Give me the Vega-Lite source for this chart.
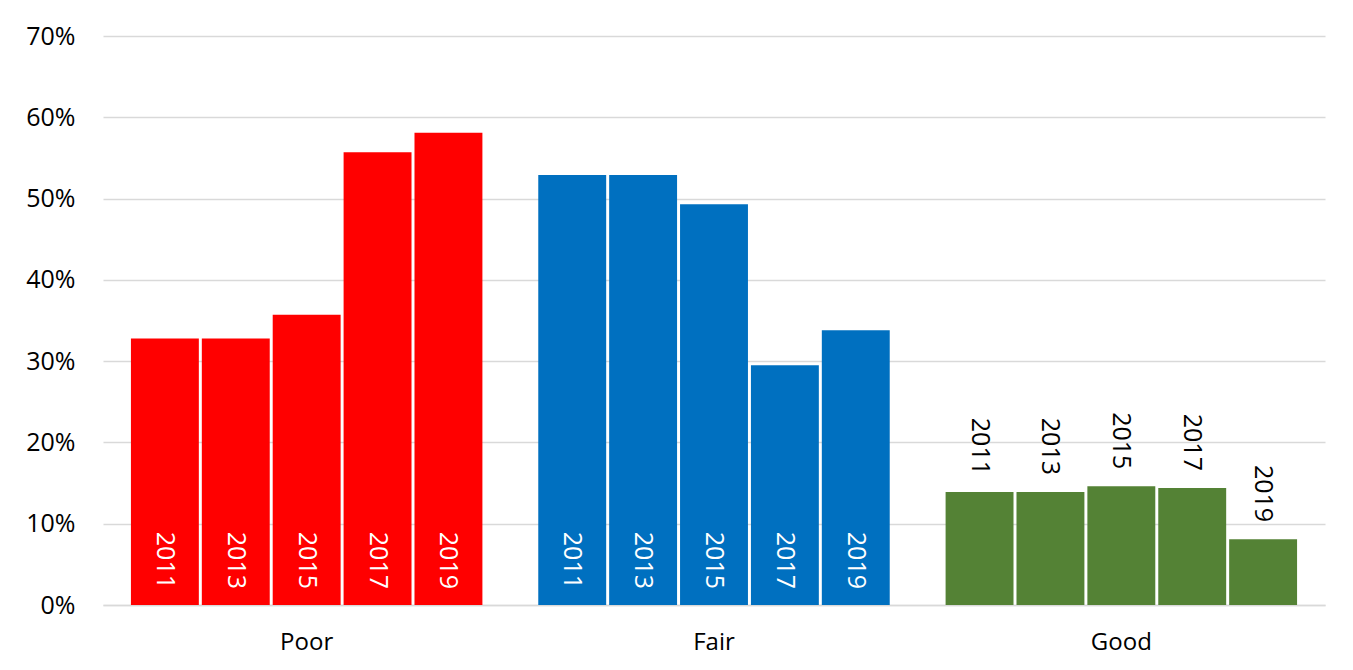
{
  "$schema": "https://vega.github.io/schema/vega-lite/v6.json",
  "width": 1222,
  "height": 569,
  "autosize": {"type": "none"},
  "padding": {"left": 103, "top": 36, "right": 28, "bottom": 65},
  "background": "white",
  "config": {
    "view": {"stroke": null},
    "font": "Open Sans",
    "axis": {"labelFont": "Open Sans", "labelColor": "#000000"}
  },
  "data": {
    "values": [
      {"rating": "Poor", "year": "2011", "share": 0.328},
      {"rating": "Poor", "year": "2013", "share": 0.328},
      {"rating": "Poor", "year": "2015", "share": 0.357},
      {"rating": "Poor", "year": "2017", "share": 0.557},
      {"rating": "Poor", "year": "2019", "share": 0.581},
      {"rating": "Fair", "year": "2011", "share": 0.529},
      {"rating": "Fair", "year": "2013", "share": 0.529},
      {"rating": "Fair", "year": "2015", "share": 0.493},
      {"rating": "Fair", "year": "2017", "share": 0.295},
      {"rating": "Fair", "year": "2019", "share": 0.338},
      {"rating": "Good", "year": "2011", "share": 0.139},
      {"rating": "Good", "year": "2013", "share": 0.139},
      {"rating": "Good", "year": "2015", "share": 0.146},
      {"rating": "Good", "year": "2017", "share": 0.144},
      {"rating": "Good", "year": "2019", "share": 0.081}
    ]
  },
  "encoding": {
    "x": {
      "field": "rating",
      "type": "nominal",
      "sort": ["Poor", "Fair", "Good"],
      "scale": {"paddingInner": 0, "paddingOuter": 0},
      "axis": {
        "title": null,
        "labelAngle": 0,
        "labelFontSize": 24,
        "labelPadding": 25,
        "ticks": false,
        "domainColor": "#D9D9D9",
        "domainWidth": 1.5
      }
    },
    "xOffset": {
      "field": "year",
      "type": "nominal",
      "scale": {"paddingInner": 0.042, "paddingOuter": 0.394}
    }
  },
  "layer": [
    {
      "mark": {"type": "bar"},
      "encoding": {
        "y": {
          "field": "share",
          "type": "quantitative",
          "scale": {"domain": [0, 0.7], "nice": false},
          "axis": {
            "title": null,
            "format": ".0%",
            "values": [0, 0.1, 0.2, 0.3, 0.4, 0.5, 0.6, 0.7],
            "labelFontSize": 25,
            "labelPadding": 28,
            "ticks": false,
            "domain": false,
            "gridColor": "#D9D9D9",
            "gridWidth": 1.5
          }
        },
        "color": {
          "field": "rating",
          "type": "nominal",
          "scale": {"domain": ["Poor", "Fair", "Good"], "range": ["#FF0000", "#0070C0", "#548235"]},
          "legend": null
        }
      }
    },
    {
      "transform": [{"filter": "datum.rating !== 'Good'"}],
      "mark": {"type": "text", "angle": 90, "align": "right", "baseline": "middle", "dx": -16, "fontSize": 25, "color": "white", "font": "Open Sans"},
      "encoding": {
        "y": {"datum": 0, "type": "quantitative"},
        "text": {"field": "year"}
      }
    },
    {
      "transform": [{"filter": "datum.rating === 'Good'"}],
      "mark": {"type": "text", "angle": 90, "align": "right", "baseline": "middle", "dx": -17, "fontSize": 25, "color": "black", "font": "Open Sans"},
      "encoding": {
        "y": {"field": "share", "type": "quantitative"},
        "text": {"field": "year"}
      }
    }
  ]
}
